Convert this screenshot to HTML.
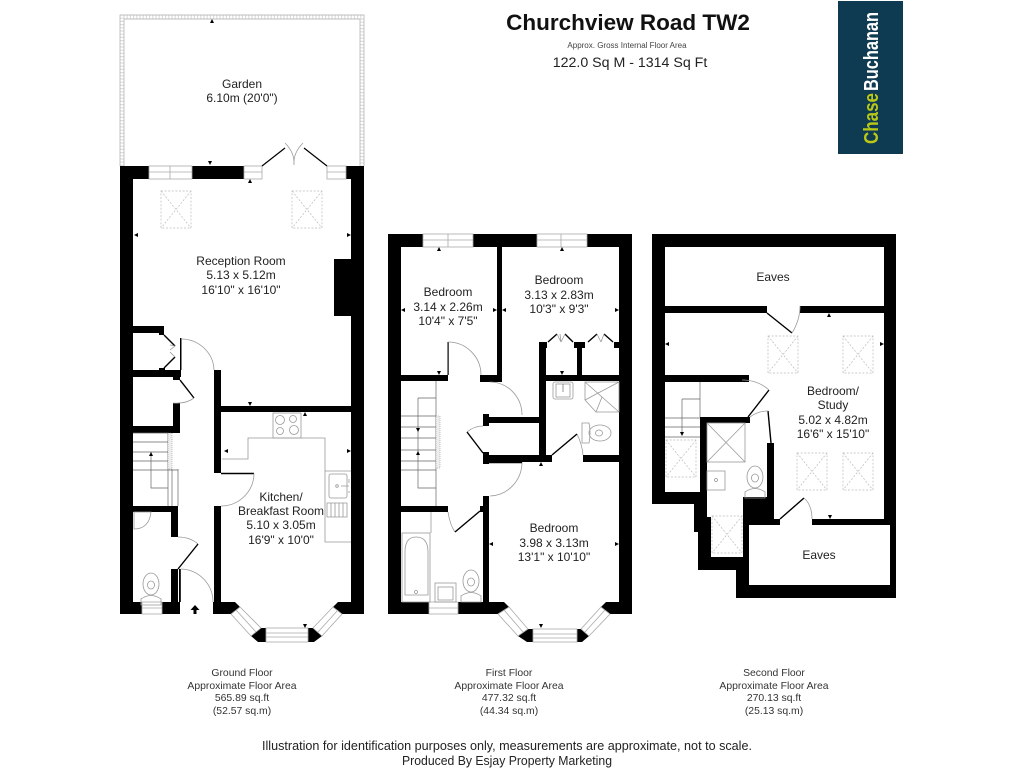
<!DOCTYPE html>
<html><head><meta charset="utf-8"><title>Churchview Road TW2</title>
<style>
html,body{margin:0;padding:0;background:#fff;width:1024px;height:768px;overflow:hidden}
svg{display:block}
text{font-family:"Liberation Sans",sans-serif;fill:#222;text-anchor:middle}
.r{font-size:12px}
.f{font-size:10.4px;fill:#333}
.w{fill:#fff;stroke:#aaa;stroke-width:.8}
.t{fill:none;stroke:#aaa;stroke-width:.8}
.a{fill:none;stroke:#999;stroke-width:.8}
.d{fill:none;stroke:#000;stroke-width:1.4}
.s{fill:none;stroke:#bbb;stroke-width:.7;stroke-dasharray:2 1.6}
.l{fill:none;stroke:#666;stroke-width:.7}
</style></head><body>
<svg width="1024" height="768" viewBox="0 0 1024 768" xmlns="http://www.w3.org/2000/svg">
<defs>
<g id="sky"><rect x="0" y="0" width="30" height="37" class="s"/><path d="M0 0L30 37M30 0L0 37" class="s"/></g>
<g id="wc"><ellipse cx="0" cy="0" rx="8" ry="11" class="a"/><ellipse cx="0" cy="1" rx="3.5" ry="4" class="a"/><path d="M-10 15Q0 8 10 15V21H-10Z" class="a"/></g>
</defs>

<!-- Title -->
<text x="628" y="30" style="font-size:22.5px;font-weight:bold;fill:#111">Churchview Road TW2</text>
<text x="627" y="48" style="font-size:8px;fill:#444">Approx. Gross Internal Floor Area</text>
<text x="630" y="67" style="font-size:14.2px">122.0 Sq M - 1314 Sq Ft</text>

<!-- Logo -->
<rect x="838" y="1" width="65" height="153" fill="#0e3a52"/>
<g transform="translate(878,144) rotate(-90)"><text x="0" y="0" style="text-anchor:start;font-size:20px;font-weight:bold;fill:#b9c816" textLength="51" lengthAdjust="spacingAndGlyphs">Chase</text><text x="53" y="0" style="text-anchor:start;font-size:20px;font-weight:bold;fill:#fff" textLength="79" lengthAdjust="spacingAndGlyphs">Buchanan</text></g>

<!-- GARDEN -->
<path d="M122 166V17H362V166" fill="none" stroke="#ddd" stroke-width="4" stroke-dasharray="1.2 2"/>
<path d="M120 166V15H364V166M124 166V19H360V166" fill="none" stroke="#aaa" stroke-width=".7"/>
<polygon points="212,19 210,23 214,23" fill="#000"/>
<text x="242" y="88" class="r">Garden</text>
<text x="242" y="102" class="r">6.10m (20'0")</text>

<!-- GROUND FLOOR walls -->
<g fill="#000">
<rect x="120" y="166" width="13" height="448"/>
<rect x="351" y="166" width="13" height="448"/>
<rect x="120" y="166" width="29" height="13"/>
<rect x="192" y="166" width="52" height="13"/>
<rect x="346" y="166" width="18" height="13"/>
<rect x="334" y="259" width="17" height="57"/>
<rect x="133" y="326" width="31" height="7"/><rect x="159" y="330" width="5" height="5"/>
<rect x="133" y="370" width="48" height="7"/><rect x="159" y="368" width="6" height="3"/>
<rect x="180" y="338" width="1.5" height="32"/>
<rect x="173" y="377" width="7" height="3"/>
<rect x="173" y="403" width="7" height="30"/>
<rect x="133" y="426" width="47" height="7"/>
<rect x="214" y="370" width="7" height="103"/>
<rect x="214" y="506" width="7" height="96"/>
<rect x="221" y="406" width="130" height="6"/>
<rect x="133" y="506" width="45" height="6"/>
<rect x="171" y="506" width="7" height="31"/>
<rect x="171" y="569" width="7" height="33"/>
<rect x="179" y="569" width="1.8" height="33"/>
<rect x="120" y="602" width="22" height="12"/>
<rect x="162" y="602" width="18" height="12"/>
<polygon points="213,602 235,602 240,607 231,614 213,614"/>
<polygon points="351,602 338,602 333,607 342,614 364,614 364,602"/>
<polygon points="266,628 261,628 251,636 258,642 266,642"/>
<polygon points="308,628 313,628 322,636 314,642 308,642"/>
<polygon points="195,605 190.5,610 193.5,610 193.5,614 196.5,614 196.5,610 199.5,610" transform="translate(0,0)"/>
</g>
<!-- ground windows -->
<rect x="149" y="166" width="43" height="13" class="w"/><path d="M149 172H192M170 166V179" class="t"/>
<rect x="244" y="166" width="18" height="13" class="w"/><path d="M244 172H262" class="t"/>
<rect x="327" y="166" width="19" height="13" class="w"/><path d="M327 172H346" class="t"/>
<rect x="142" y="602" width="20" height="12" class="w"/><path d="M142 608H162" class="t"/>
<rect x="266" y="628" width="42" height="14" class="w"/><path d="M266 633H308M266 637H308" class="t"/>
<polygon points="240,607 261,628 251,636 231,614" class="w"/><path d="M236 610L256 632" class="t"/>
<polygon points="333,607 313,628 322,636 342,614" class="w"/><path d="M338 610L318 632" class="t"/>
<!-- french doors -->
<path d="M262 166L285 148M327 166L304 148" stroke="#000" stroke-width="1.2" fill="none"/>
<path d="M285 143Q295 153 294 165M303 143Q293 153 294 165" class="a"/>
<!-- doors -->
<path d="M164 335L175 346M175 357L164 368" class="d"/>
<path d="M181 339A33 32 0 0 1 214 370" class="a"/>
<path d="M180 380L194 398" class="d"/><path d="M173 403Q186 404 194 398" class="a"/>
<path d="M221 473.5H254" class="d"/><path d="M254 473.5A33 33 0 0 1 221 506" class="a"/>
<path d="M178 537Q190 537 198 544" class="a"/><path d="M198 544L178 569" class="d"/>
<path d="M181 569A33 33 0 0 1 213 602" class="a"/>
<path d="M170 345L175 346L170 350M170 352L175 357" class="a"/>
<use href="#sky" x="161" y="191"/><use href="#sky" x="292" y="191"/>
<!-- stairs -->
<path d="M133 433H168M133 442H168M133 452H168M133 461H168M133 470H178M168 433V506M172 469V506M178 469V506M151 452V488H168" class="l"/>
<rect x="168" y="433" width="4" height="36" fill="#eee" stroke="#888" stroke-width=".5" stroke-dasharray="1 1"/>
<polygon points="151,452 149,456 153,456" fill="#000"/>
<!-- kitchen -->
<rect x="273" y="413" width="28" height="25" class="a"/>
<circle cx="280" cy="420" r="4.5" class="a"/><circle cx="293" cy="419" r="3.5" class="a"/><circle cx="280" cy="431" r="3.5" class="a"/><circle cx="294" cy="430" r="4.5" class="a"/>
<path d="M222 459H248V438H325V542H351M325 471H351" class="a"/>
<rect x="329" y="474" width="18" height="24" rx="2" class="a"/>
<path d="M327 503H347V517H327ZM331 503V517M335 503V517M339 503V517M343 503V517" class="a"/>
<circle cx="337" cy="486" r="1.3" class="a"/><path d="M341 486H349M349 479V483M349 491V493" class="a"/>
<!-- WC ground -->
<path d="M134 512H151Q149 529 134 529Z" class="a"/>
<use href="#wc" x="151" y="584"/>
<!-- ground arrows -->
<g fill="#000">
<polygon points="250,179 248,183 252,183"/>
<polygon points="134,235 138,233 138,237"/><polygon points="347,233 347,237 351,235"/>
<polygon points="208,161 212,161 210,165"/>
<polygon points="248,402 252,402 250,406"/>
<polygon points="305,412 303,416 307,416"/>
<polygon points="224,451 228,449 228,453"/><polygon points="347,449 347,453 351,451"/>
<polygon points="305,628 303,624 307,624"/>
</g>
<text x="241" y="265" class="r">Reception Room</text><text x="241" y="279" class="r">5.13 x 5.12m</text><text x="241" y="294" class="r">16'10" x 16'10"</text>
<text x="281" y="501" class="r">Kitchen/</text><text x="281" y="515" class="r">Breakfast Room</text><text x="281" y="529" class="r">5.10 x 3.05m</text><text x="281" y="544" class="r">16'9" x 10'0"</text>

<!-- FIRST FLOOR -->
<g fill="#000">
<rect x="388" y="234" width="13" height="380"/>
<rect x="619" y="234" width="13" height="380"/>
<rect x="388" y="234" width="35" height="13"/>
<rect x="473" y="234" width="64" height="13"/>
<rect x="587" y="234" width="45" height="13"/>
<rect x="497" y="247" width="5" height="134"/>
<rect x="401" y="375" width="47" height="6"/>
<rect x="447.5" y="342" width="1.2" height="33"/>
<rect x="480" y="375" width="22" height="7"/>
<rect x="483" y="414" width="6" height="12"/>
<rect x="489" y="417" width="51" height="6"/>
<rect x="539" y="342" width="7" height="120"/><rect x="539" y="342" width="8" height="6"/>
<rect x="540" y="375" width="79" height="6"/>
<rect x="577" y="342" width="5" height="33"/><rect x="574" y="342" width="11" height="6"/>
<rect x="614" y="342" width="5" height="6"/>
<rect x="483" y="452" width="6" height="12"/>
<rect x="489" y="455" width="63" height="7"/>
<rect x="583" y="455" width="36" height="7"/>
<rect x="483" y="496" width="6" height="106"/>
<rect x="401" y="506" width="47" height="6"/>
<rect x="480" y="506" width="3" height="6"/>
<rect x="388" y="602" width="41" height="12"/>
<polygon points="458,602 504,602 509,607 498,614 458,614"/>
<polygon points="632,602 606,602 601,607 610,614 632,614"/>
<polygon points="533,629 528,629 518,636 527,642 533,642"/>
<polygon points="577,629 581,629 589,636 582,642 577,642"/>
</g>
<rect x="423" y="234" width="50" height="13" class="w"/><path d="M423 240H473M448 234V247" class="t"/>
<rect x="537" y="234" width="50" height="13" class="w"/><path d="M537 240H587M561 234V247" class="t"/>
<rect x="429" y="602" width="29" height="12" class="w"/><path d="M429 608H458" class="t"/>
<rect x="533" y="629" width="44" height="13" class="w"/><path d="M533 634H577M533 638H577" class="t"/>
<polygon points="509,607 528,629 518,636 498,614" class="w"/><path d="M504 610L523 632" class="t"/>
<polygon points="601,607 581,629 589,636 610,614" class="w"/><path d="M605 610L585 632" class="t"/>
<path d="M448 342A33 33 0 0 1 481 375M490 382A32 33 0 0 1 522 415M467 432Q474 426 483 426" class="a"/>
<path d="M522 462A33 34 0 0 1 490 496M448 512Q450 525 455 532M577 434Q582 444 583 455" class="a"/>
<path d="M467 432L483 453M552 455L577 434M455 532L480 511M489 462.5H522" class="d"/>
<path d="M548 342L557 334M573 342L565 334M588 342L597 334M613 342L604 334" class="d"/>
<path d="M557 334L561 342L560 334M565 334L561 342M597 334L601 342M604 334L601 342" class="a"/>
<!-- stairs 1st -->
<path d="M401 416H436M401 427H436M401 438H436M401 450H436M401 461H436M401 470H436M436 381V506M418 398H436M418 398V488H436" class="l"/>
<rect x="436" y="416" width="4" height="52" fill="#eee" stroke="#888" stroke-width=".5" stroke-dasharray="1 1"/>
<polygon points="418,432 416,428 420,428" fill="#000"/><polygon points="418,451 416,455 420,455" fill="#000"/>
<!-- bath -->
<rect x="402" y="533" width="28" height="69" class="a"/>
<path d="M405 595V552Q405 537 416 537Q428 537 428 552V595Z" class="a"/>
<circle cx="416" cy="592" r="1.5" class="a"/><path d="M431 512V533" class="a"/>
<rect x="435" y="583" width="21" height="19" class="a"/><rect x="438" y="587" width="15" height="13" class="a"/>
<use href="#wc" x="471" y="581"/>
<!-- upstairs bath -->
<rect x="553" y="382" width="20" height="17" rx="2" class="a"/><rect x="556" y="384" width="14" height="13" class="a"/><path d="M563 384V392" class="l"/>
<path d="M585 382H619V412H596L585 400ZM585 400L619 382M596 412L602 397L585 382M602 397L619 412" class="a"/>
<g transform="translate(600,433) rotate(90)"><ellipse cx="0" cy="0" rx="8" ry="11" class="a"/><ellipse cx="0" cy="1" rx="3" ry="3.5" class="a"/><path d="M-10 11Q0 9 10 11V18H-10Z" class="a"/></g>
<!-- arrows 1st -->
<g fill="#000">
<polygon points="439,247 437,251 441,251"/><polygon points="562,247 560,251 564,251"/>
<polygon points="401,310 405,308 405,312"/><polygon points="493,308 493,312 497,310"/>
<polygon points="502,310 506,308 506,312"/><polygon points="615,308 615,312 619,310"/>
<polygon points="439,375 437,371 441,371"/><polygon points="562,375 560,371 564,371"/>
<polygon points="541,462 539,466 543,466"/>
<polygon points="489,544 493,542 493,546"/><polygon points="615,542 615,546 619,544"/>
<polygon points="541,628 539,624 543,624"/>
</g>
<text x="448" y="296" class="r">Bedroom</text><text x="448" y="311" class="r">3.14 x 2.26m</text><text x="448" y="325" class="r">10'4" x 7'5"</text>
<text x="559" y="284" class="r">Bedroom</text><text x="559" y="299" class="r">3.13 x 2.83m</text><text x="559" y="313" class="r">10'3" x 9'3"</text>
<text x="554" y="532" class="r">Bedroom</text><text x="554" y="547" class="r">3.98 x 3.13m</text><text x="554" y="561" class="r">13'1" x 10'10"</text>

<!-- SECOND FLOOR -->
<polygon points="652,234 896,234 896,598 736,598 736,570 698,570 698,532 694,532 694,504 652,504" fill="#000"/>
<rect x="665" y="247" width="219" height="59" fill="#fff"/>
<polygon fill="#fff" points="665,313 884,313 884,519 774,519 774,443 767,443 767,497 743,497 743,557 711,557 711,517 707,517 707,423 750,423 750,417 700,417 700,492 665,492 665,382 749,382 749,375 665,375"/>
<rect x="767" y="305" width="33" height="9" fill="#fff"/>
<rect x="780" y="518" width="32" height="8" fill="#fff"/>
<rect x="749" y="525" width="141" height="60" fill="#fff"/>
<path d="M767 313L792 333M769 390L748 417M780 519L804 498M768 411L771 443" class="d"/>
<path d="M792 333Q800 320 800 306M742 380Q758 380 769 390M750 417Q758 411 768 411M804 498Q812 505 812 519" class="a"/>
<use href="#sky" x="768" y="336"/><use href="#sky" x="843" y="336"/><use href="#sky" x="797" y="453"/><use href="#sky" x="843" y="453"/><use href="#sky" x="666" y="440"/><use href="#sky" x="712" y="516"/>
<path d="M665 418H700M665 427H700M665 437H700M700 382V417M682 399H700M682 399V433" class="l"/>
<polygon points="682,436 680,432 684,432" fill="#000"/>
<rect x="707" y="423" width="38" height="39" class="a"/><path d="M707 423L745 462M745 423L707 462" class="a"/>
<rect x="707" y="471" width="18" height="19" class="a"/><circle cx="716" cy="480" r="1.5" class="a"/>
<use href="#wc" x="755" y="477"/>
<g fill="#000">
<polygon points="829,313 827,317 831,317"/>
<polygon points="665,344 669,342 669,346"/><polygon points="880,342 880,346 884,344"/>
<polygon points="830,519 828,515 832,515"/>
</g>
<text x="773" y="281" class="r">Eaves</text>
<text x="833" y="395" class="r">Bedroom/</text>
<text x="833" y="409" class="r">Study</text>
<text x="833" y="424" class="r">5.02 x 4.82m</text>
<text x="833" y="438" class="r">16'6" x 15'10"</text>
<text x="819" y="559" class="r">Eaves</text>

<!-- captions -->
<text x="242" y="676" class="f">Ground Floor</text><text x="242" y="689" class="f">Approximate Floor Area</text><text x="242" y="701" class="f">565.89 sq.ft</text><text x="242" y="714" class="f">(52.57 sq.m)</text>
<text x="509" y="676" class="f">First Floor</text><text x="509" y="689" class="f">Approximate Floor Area</text><text x="509" y="701" class="f">477.32 sq.ft</text><text x="509" y="714" class="f">(44.34 sq.m)</text>
<text x="774" y="676" class="f">Second Floor</text><text x="774" y="689" class="f">Approximate Floor Area</text><text x="774" y="701" class="f">270.13 sq.ft</text><text x="774" y="714" class="f">(25.13 sq.m)</text>
<text x="507" y="750" style="font-size:12.5px" textLength="490" lengthAdjust="spacingAndGlyphs">Illustration for identification purposes only, measurements are approximate, not to scale.</text>
<text x="507" y="765" style="font-size:12.5px" textLength="210" lengthAdjust="spacingAndGlyphs">Produced By Esjay Property Marketing</text>
</svg>
</body></html>
